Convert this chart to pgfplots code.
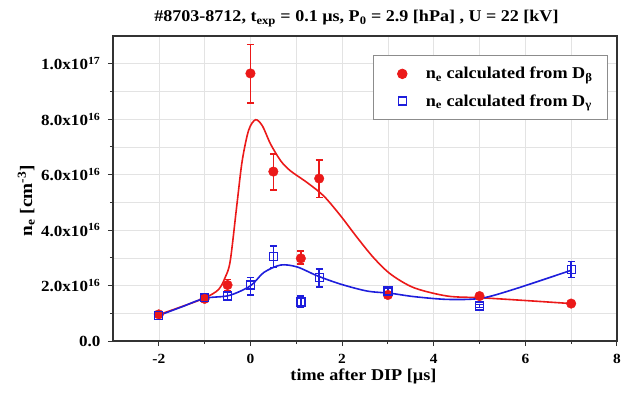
\documentclass[border=0pt]{standalone}
\usepackage{fontspec}
\setmainfont{Liberation Serif}[FakeStretch=1.1]
\usepackage{pgfplots}
\pgfplotsset{compat=1.18}
\usepackage{pgfplotstable}

\definecolor{myred}{RGB}{235,25,25}
\definecolor{myblue}{RGB}{30,30,220}

\pgfplotstableread{
x y ep em
-2 0.96 0 0
-1 1.52 0.08 0.08
-0.5 2.02 0.2 0.2
0 9.65 1.05 1.07
0.5 6.11 0.63 0.67
1.1 2.98 0.27 0.21
1.5 5.86 0.66 0.69
3 1.66 0.1 0.1
5 1.62 0.08 0.08
7 1.35 0.05 0.05
}\redtab

\pgfplotstableread{
x y ep em
-2 0.93 0.05 0.05
-1 1.56 0.1 0.1
-0.5 1.62 0.15 0.15
0 2.02 0.27 0.36
0.5 3.05 0.38 0.40
1.1 1.41 0.21 0.21
1.5 2.29 0.30 0.35
3 1.80 0.12 0.12
5 1.26 0.05 0.05
7 2.59 0.27 0.30
}\bluetab

\begin{document}
\begin{tikzpicture}
\path[use as bounding box] (-113pt,-53pt) rectangle (512pt,341pt);
\begin{axis}[
  at={(0,0)}, anchor=south west,
  scale only axis, width=504pt, height=305pt,
  xmin=-3, xmax=8, ymin=0, ymax=11,
  xtick={-2,0,2,4,6,8},
  xticklabels={-2,0,2,4,6,8},
  ytick={0,2,4,6,8,10},
  yticklabels={0.0,2.0x10\textsuperscript{16},4.0x10\textsuperscript{16},6.0x10\textsuperscript{16},8.0x10\textsuperscript{16},1.0x10\textsuperscript{17}},
  minor x tick num=1, minor y tick num=1,
  grid=both,
  major grid style={black!11, line width=0.6pt},
  minor grid style={black!11, line width=0.6pt},
  tick align=outside, xtick pos=bottom, ytick pos=left,
  major tick length=5pt, minor tick length=3pt,
  axis line style={black!80, line width=1.1pt},
  tick style={black!80, line width=1pt},
  xticklabel style={font=\fontsize{14}{16}\selectfont\bfseries, anchor=base, yshift=-17pt},
  yticklabel style={font=\fontsize{15.5}{17}\selectfont\bfseries, anchor=east, xshift=-4pt},
  title={\#8703-8712, t\textsubscript{exp} = 0.1 µs, P\textsubscript{0} = 2.9 [hPa] , U = 22 [kV]},
  title style={font=\fontsize{16.4}{18}\selectfont\bfseries, at={(axis description cs:0.483,1)}, anchor=base, yshift=8pt},
  xlabel={time after DIP [µs]},
  xlabel style={font=\fontsize{16.5}{18}\selectfont\bfseries, at={(axis description cs:0.497,0)}, anchor=base, yshift=-39pt},
  ylabel={n\textsubscript{e} [cm\textsuperscript{-3}]},
  ylabel style={font=\fontsize{17.5}{19}\selectfont\bfseries, at={(axis description cs:-0.172,0.46)}, anchor=center},
  legend style={at={(0.982,0.938)}, anchor=north east, draw=black!45, line width=0.8pt,
    font=\fontsize{16.5}{18}\selectfont\bfseries, inner xsep=13pt, inner ysep=10pt, row sep=10pt},
  legend cell align=left,
  legend image code/.code={\path[draw=none,fill=none] (-7.5pt,0pt) -- (30pt,0pt); \draw[#1] plot coordinates {(0.3cm,0cm)};},
]
\addplot[myred, line width=1.6pt, smooth, forget plot] coordinates {
(-2,0.95) (-1.5,1.24) (-1,1.55) (-0.7,1.85) (-0.55,2.3) (-0.44,2.9) (-0.29,5.0) (-0.18,6.5) (-0.04,7.6) (0.11,7.98) (0.26,7.76) (0.44,7.1) (0.66,6.5) (0.87,6.14) (1.24,5.71) (1.6,5.23) (1.97,4.51) (2.33,3.73) (2.69,3.0) (3.06,2.41) (3.57,1.92) (4.3,1.62) (5.03,1.56) (6,1.46) (7,1.35)
};
\addplot[myblue, line width=1.6pt, smooth, forget plot] coordinates {
(-2,0.92) (-1.5,1.23) (-1,1.54) (-0.47,1.64) (0,1.99) (0.29,2.47) (0.66,2.74) (1.02,2.67) (1.46,2.35) (1.97,2.05) (2.55,1.8) (3.06,1.72) (3.57,1.6) (4.3,1.5) (5.03,1.54) (5.76,1.87) (7,2.55)
};
\addplot[only marks, mark=*, mark size=4.8pt, color=myred, mark options={fill=myred, draw=myred},
  error bars/.cd, y dir=both, y explicit,
  error bar style={line width=1.5pt, solid, draw=myred},
  error mark options={rotate=90, mark size=3.5pt, line width=1.5pt, draw=myred}]
  table[x=x, y=y, y error plus=ep, y error minus=em] {\redtab};
\addlegendentry{n\textsubscript{e} calculated from D\textsubscript{β}}
\addplot[only marks, mark=square, mark size=4pt, color=myblue, mark options={line width=1.3pt, fill=white, draw=myblue},
  error bars/.cd, y dir=both, y explicit,
  error bar style={line width=1.5pt, solid, draw=myblue},
  error mark options={rotate=90, mark size=3.5pt, line width=1.5pt, draw=myblue}]
  table[x=x, y=y, y error plus=ep, y error minus=em] {\bluetab};
\addlegendentry{n\textsubscript{e} calculated from D\textsubscript{γ}}
\end{axis}
\end{tikzpicture}
\end{document}
